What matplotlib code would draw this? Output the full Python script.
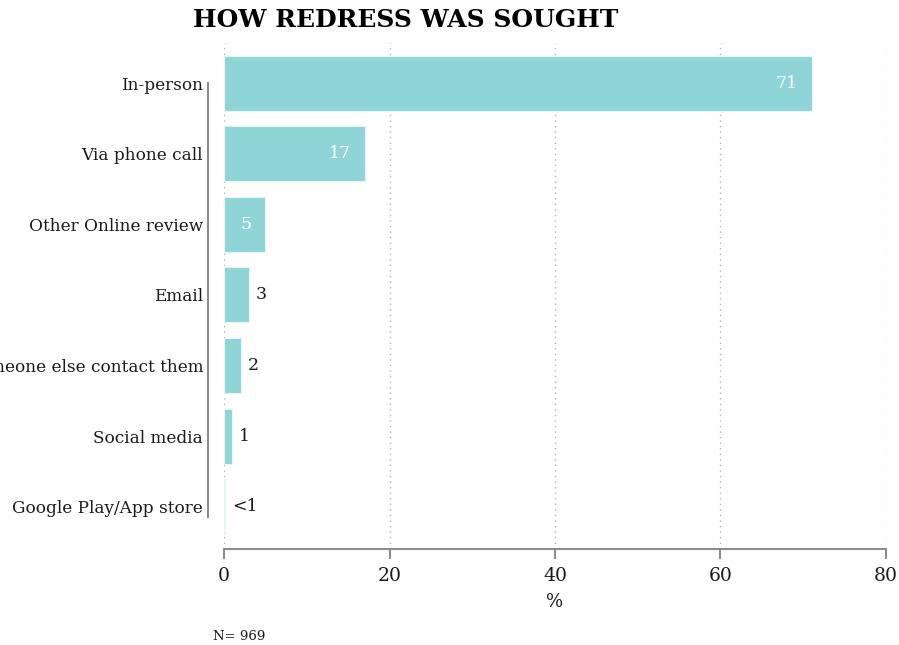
import matplotlib
matplotlib.use("Agg")
import matplotlib.pyplot as plt

categories = ["In-person", "Via phone call", "Other Online review", "Email",
              "Had someone else contact them", "Social media", "Google Play/App store"]
values = [71, 17, 5, 3, 2, 1, 0.1]
value_labels = ["71", "17", "5", "3", "2", "1", "<1"]
inside = [True, True, True, False, False, False, False]
x_ticks = [0, 20, 40, 60, 80]
sample_note = "N= 969"

BAR = "#8fd4d7"
INK = "#1a1a1a"
AXIS = "#8c8c8c"
FONT = ["DejaVu Serif"]

plt.rcParams["font.family"] = FONT

fig = plt.figure(figsize=(8.99, 6.45), dpi=100)
ax = fig.add_axes([224 / 899, 96 / 645, 662 / 899, 506 / 645])

# spines first: repositioning a spine resets its axis ticks
for s in ("top", "right"):
    ax.spines[s].set_visible(False)
ax.spines["left"].set_position(("outward", 11.5))
ax.spines["left"].set_bounds(0, 6.15)
ax.spines["left"].set_color(AXIS)
ax.spines["left"].set_linewidth(1.5)
ax.spines["bottom"].set_bounds(0, 80)
ax.spines["bottom"].set_color(AXIS)
ax.spines["bottom"].set_linewidth(1.5)

ypos = list(range(len(categories)))
ax.barh(ypos, values, height=0.78, color=BAR, edgecolor="#e6f6f7", linewidth=0.8, zorder=2)

ax.set_xlim(0, 80)
ax.set_ylim(6.6, -0.57)

# value labels: white inside long bars, dark just past short ones
for y, v, lab, ins in zip(ypos, values, value_labels, inside):
    if ins:
        ax.annotate(lab, (v, y), xytext=(-10, 0), textcoords="offset points",
                    ha="right", va="center", color="white", fontsize=12.5)
    else:
        ax.annotate(lab, (v, y), xytext=(5, 0), textcoords="offset points",
                    ha="left", va="center", color=INK, fontsize=12.5)

ax.set_yticks(ypos)
ax.set_yticklabels(categories)
ax.set_xticks(x_ticks)
ax.set_xticklabels([str(t) for t in x_ticks])
ax.set_xlabel("%", fontsize=13, color=INK, labelpad=6)

ax.tick_params(axis="y", length=0, pad=3.5, labelsize=12.2, labelcolor=INK)
ax.tick_params(axis="x", length=7, width=1.5, color=AXIS, pad=6, labelsize=13.5, labelcolor=INK)

ax.grid(axis="x", linestyle=(0, (1, 3)), color="#b5b5b5", linewidth=1, zorder=0)
ax.set_axisbelow(True)

fig.text(406 / 899, 1 - 20 / 645, "HOW REDRESS WAS SOUGHT", ha="center", va="center",
         fontsize=18, fontweight="bold", color="#000000")
fig.text(213 / 899, 1 - 636 / 645, sample_note, ha="left", va="center",
         fontsize=9.5, color=INK)

fig.savefig("out.png", dpi=100)
